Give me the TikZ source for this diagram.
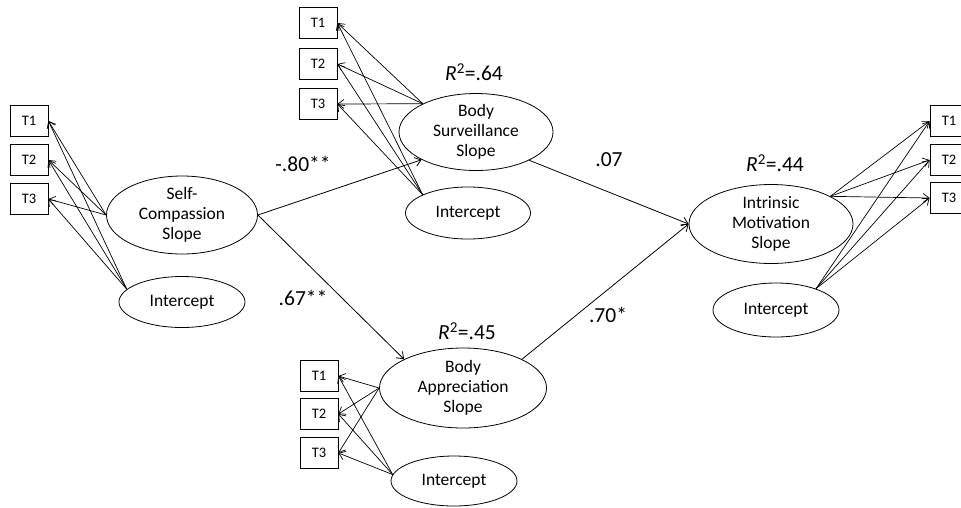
\documentclass[tikz,border=0pt]{standalone}
\usepackage{fontspec}
\setmainfont{Carlito}
\usetikzlibrary{shapes.geometric,arrows.meta}
\begin{document}
\begin{tikzpicture}[x=1pt,y=-1pt,
  >={Straight Barb[length=6pt,width=9pt]},
  latent/.style={draw, ellipse, line width=0.8pt, inner xsep=0pt, inner ysep=-3pt, align=center, font=\fontsize{17.5}{20.3}\selectfont},
  tbox/.style={draw, rectangle, line width=0.8pt, minimum width=38pt, minimum height=31pt, inner sep=0pt, font=\fontsize{14.5}{16}\selectfont},
  coef/.style={font=\fontsize{21.5}{25}\selectfont},
  load/.style={->, line width=0.7pt},
  reg/.style={->, line width=0.8pt}]
  \useasboundingbox (0,0) rectangle (961,507);

  \node[latent, minimum width=151pt, minimum height=78pt] (SC) at (182,215) {Self-\\Compassion\\Slope};
  \node[latent, minimum width=126pt, minimum height=51pt] (SCI) at (182,302) {Intercept};
  \node[tbox] (SC1) at (29,121) {T1};
  \node[tbox] (SC2) at (29,160) {T2};
  \node[tbox] (SC3) at (29,199) {T3};

  \node[latent, minimum width=154pt, minimum height=77pt] (BS) at (476,132) {Body\\Surveillance\\Slope};
  \node[latent, minimum width=125pt, minimum height=52pt] (BSI) at (468,213) {Intercept};
  \node[tbox] (BS1) at (318,23) {T1};
  \node[tbox] (BS2) at (318,64) {T2};
  \node[tbox] (BS3) at (318,104) {T3};
  \node[coef] (R2BS) at (474,72) {\textit{R}\textsuperscript{2}=.64};

  \node[latent, minimum width=167pt, minimum height=80pt] (BA) at (463,388) {Body\\Appreciation\\Slope};
  \node[latent, minimum width=126pt, minimum height=50pt] (BAI) at (454,481) {Intercept};
  \node[tbox] (BA1) at (319,376) {T1};
  \node[tbox] (BA2) at (319,414) {T2};
  \node[tbox] (BA3) at (319,453) {T3};
  \node[coef] (R2BA) at (467,331) {\textit{R}\textsuperscript{2}=.45};

  \node[latent, minimum width=164pt, minimum height=79pt] (IM) at (771,224) {Intrinsic\\Motivation\\Slope};
  \node[latent, minimum width=126pt, minimum height=54pt] (IMI) at (776,310) {Intercept};
  \node[tbox] (IM1) at (949,121) {T1};
  \node[tbox] (IM2) at (949,160) {T2};
  \node[tbox] (IM3) at (949,198) {T3};
  \node[coef] (R2IM) at (775,163) {\textit{R}\textsuperscript{2}=.44};

  \foreach \i in {1,2,3} {
    \draw[load] (SC.west) -- (SC\i.east);
    \draw[load] (SCI.167) -- (SC\i.east);
    \draw[load] (BS.152) -- (BS\i.east);
    \draw[load] (BSI.158) -- (BS\i.east);
    \draw[load] (BA.west) -- (BA\i.east);
    \draw[load] (BAI.174) -- (BA\i.east);
    \draw[load] (IM.25) -- (IM\i.west);
    \draw[load] (IMI.28) -- (IM\i.west);
  }

  \draw[reg] (SC.east) -- (BS.207);
  \draw[reg] (SC.east) -- (BA.154);
  \draw[reg] (BS.-28) -- (IM.west);
  \draw[reg] (BA.26) -- (IM.west);

  \node[coef] (cSCBS) at (303,164) {-.80**};
  \node[coef] (cSCBA) at (303,298) {.67**};
  \node[coef] (cBSIM) at (609,160) {.07};
  \node[coef] (cBAIM) at (608,315) {.70*};
\end{tikzpicture}
\end{document}
